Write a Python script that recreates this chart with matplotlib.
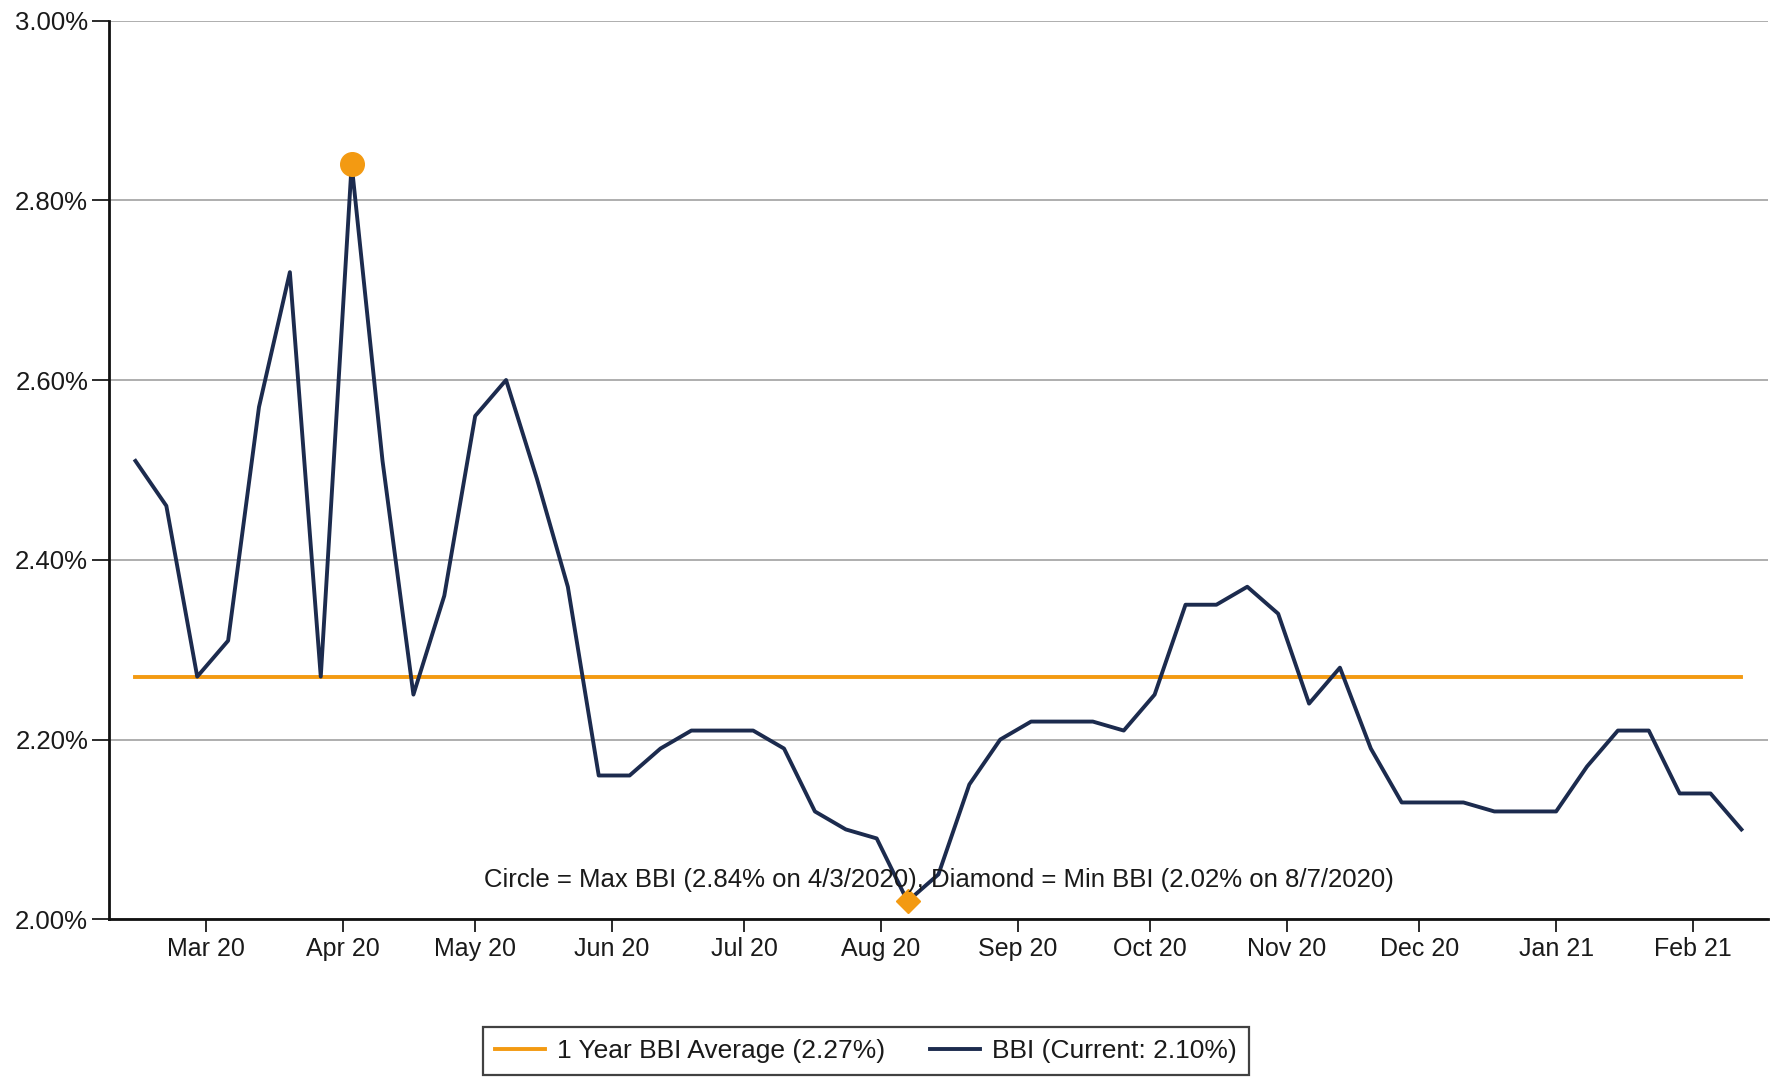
import numpy as np
import pandas as pd
import matplotlib
matplotlib.use("Agg")
import matplotlib.pyplot as plt
import matplotlib.dates as mdates

plt.rcParams['font.family'] = ['Liberation Sans', 'DejaVu Sans']

# weekly BBI readings (Fridays), Feb 14 2020 - Feb 12 2021
dates = pd.date_range("2020-02-14", "2021-02-12", freq="7D")
bbi = [2.51, 2.46, 2.27, 2.31, 2.57, 2.72, 2.27, 2.84, 2.51, 2.25,
       2.36, 2.56, 2.60, 2.49, 2.37, 2.16, 2.16, 2.19, 2.21, 2.21,
       2.21, 2.19, 2.12, 2.10, 2.09, 2.02, 2.05, 2.15, 2.20, 2.22,
       2.22, 2.22, 2.21, 2.25, 2.35, 2.35, 2.37, 2.34, 2.24, 2.28,
       2.19, 2.13, 2.13, 2.13, 2.12, 2.12, 2.12, 2.17, 2.21, 2.21,
       2.14, 2.14, 2.10]
avg_bbi = 2.27
max_date, max_val = pd.Timestamp("2020-04-03"), 2.84
min_date, min_val = pd.Timestamp("2020-08-07"), 2.02

yticks = [2.00, 2.20, 2.40, 2.60, 2.80, 3.00]

orange = "#F39A12"
navy = "#1C2B4E"
txt = "#1A1A1A"

fig = plt.figure(figsize=(17.75, 10.79), dpi=100)
ax = fig.add_axes([0.0614, 0.148, 0.9346, 0.833])

ax.plot([dates[0], dates[-1]], [avg_bbi, avg_bbi], color=orange, lw=2.8,
        label="1 Year BBI Average (2.27%)", zorder=2)
ax.plot(dates, bbi, color=navy, lw=2.8, label="BBI (Current: 2.10%)", zorder=3)
ax.plot([max_date], [max_val], "o", color=orange, ms=17, zorder=4)
ax.plot([min_date], [min_val], "D", color=orange, ms=12, zorder=4)

ax.text(0.5, 0.044,
        "Circle = Max BBI (2.84% on 4/3/2020), Diamond = Min BBI (2.02% on 8/7/2020)",
        transform=ax.transAxes, ha="center", va="center", fontsize=18.5,
        color=txt, zorder=5)

ax.set_ylim(2.0, 3.0)
ax.set_yticks(yticks)
ax.set_yticklabels([f"{v:.2f}%" for v in yticks])
ax.set_xlim(pd.Timestamp("2020-02-08"), pd.Timestamp("2021-02-18"))
ax.xaxis.set_major_locator(mdates.MonthLocator())
ax.xaxis.set_major_formatter(mdates.DateFormatter("%b %y"))

ax.grid(axis="y", color="#A8A8A8", lw=1.3)
ax.set_axisbelow(True)
for s in ["top", "right"]:
    ax.spines[s].set_visible(False)
for s in ["left", "bottom"]:
    ax.spines[s].set_linewidth(2)
    ax.spines[s].set_color("#111111")

ax.tick_params(axis="y", length=12, width=1.3, pad=3, labelsize=18.5, colors=txt)
ax.tick_params(axis="x", length=9, width=1.3, pad=4, labelsize=18, colors=txt)

leg = fig.legend(loc="center", bbox_to_anchor=(0.488, 0.026), ncol=2,
                 fontsize=19, frameon=True, fancybox=False, edgecolor="#111111",
                 handlelength=1.9, handletextpad=0.45, columnspacing=1.7,
                 borderpad=0.45)
leg.get_frame().set_linewidth(1.6)
for t in leg.get_texts():
    t.set_color(txt)

fig.savefig("out.png", dpi=100, facecolor="white")
